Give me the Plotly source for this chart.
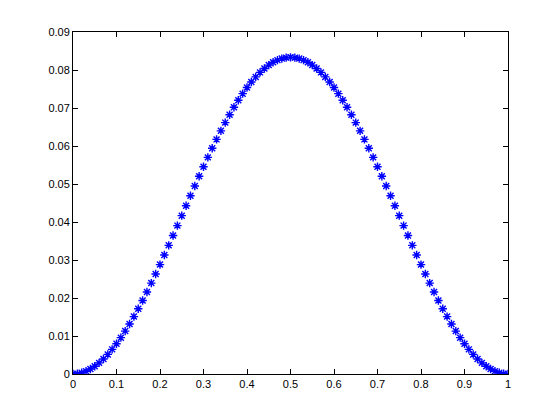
import plotly.graph_objects as go

x_values = [round(i * 0.01, 2) for i in range(101)]
y_values = [0.0, 0.0000822, 0.000329, 0.000738, 0.001309, 0.002039, 0.002926, 0.003966,
            0.005154, 0.006486, 0.007958, 0.009562, 0.011293, 0.013144, 0.015107, 0.017176,
            0.019341, 0.021594, 0.023926, 0.026328, 0.028791, 0.031305, 0.033859, 0.036444,
            0.039050, 0.041667, 0.044283, 0.046889, 0.049474, 0.052029, 0.054542, 0.057005,
            0.059407, 0.061740, 0.063993, 0.066158, 0.068226, 0.070189, 0.072040, 0.073771,
            0.075376, 0.076847, 0.078179, 0.079368, 0.080407, 0.081294, 0.082024, 0.082595,
            0.083005, 0.083251, 0.083333,
            0.083251, 0.083005, 0.082595, 0.082024, 0.081294, 0.080407, 0.079368, 0.078179,
            0.076847, 0.075376, 0.073771, 0.072040, 0.070189, 0.068226, 0.066158, 0.063993,
            0.061740, 0.059407, 0.057005, 0.054542, 0.052029, 0.049474, 0.046889, 0.044283,
            0.041667, 0.039050, 0.036444, 0.033859, 0.031305, 0.028791, 0.026328, 0.023926,
            0.021594, 0.019341, 0.017176, 0.015107, 0.013144, 0.011293, 0.009562, 0.007958,
            0.006486, 0.005154, 0.003966, 0.002926, 0.002039, 0.001309, 0.000738, 0.000329,
            0.0000822, 0.0]

x_ticks = [0, 0.1, 0.2, 0.3, 0.4, 0.5, 0.6, 0.7, 0.8, 0.9, 1]
x_tick_labels = ["0", "0.1", "0.2", "0.3", "0.4", "0.5", "0.6", "0.7", "0.8", "0.9", "1"]
y_ticks = [0, 0.01, 0.02, 0.03, 0.04, 0.05, 0.06, 0.07, 0.08, 0.09]
y_tick_labels = ["0", "0.01", "0.02", "0.03", "0.04", "0.05", "0.06", "0.07", "0.08", "0.09"]

fig = go.Figure()
fig.add_trace(go.Scatter(
    x=x_values, y=y_values, mode="markers",
    marker=dict(symbol="asterisk-open", size=7, color="#0000FF",
                line=dict(color="#0000FF", width=1.4)),
    showlegend=False,
))

axis_common = dict(
    showline=True, linecolor="black", linewidth=1, mirror="ticks",
    ticks="inside", ticklen=5, tickcolor="black", showgrid=False, zeroline=False,
    tickfont=dict(family="Liberation Sans, Arial", size=11, color="black"),
)
fig.update_xaxes(range=[0, 1], tickvals=x_ticks, ticktext=x_tick_labels, **axis_common)
fig.update_yaxes(range=[0, 0.09], tickvals=y_ticks, ticktext=y_tick_labels, **axis_common)

fig.update_layout(
    width=560, height=420,
    margin=dict(l=65, r=60, t=24, b=54),
    plot_bgcolor="white", paper_bgcolor="white",
)

fig.write_html("out.html")
